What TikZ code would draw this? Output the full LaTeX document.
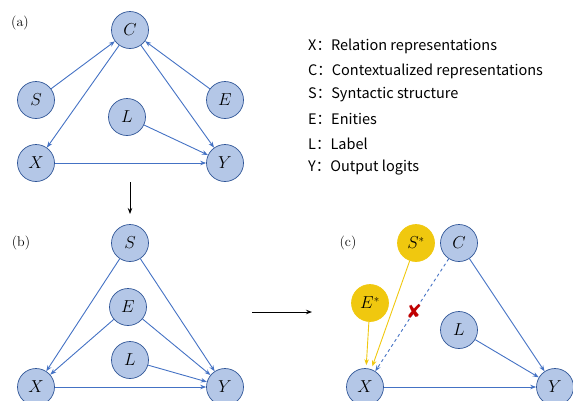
\documentclass[tikz,border=0pt]{standalone}
\usepackage{fontspec}
\usepackage{tikz}
\usetikzlibrary{arrows.meta,positioning}
\newfontfamily\legendfont{Noto Sans CJK SC}
\newfontfamily\markfont{DejaVu Sans}
\definecolor{nodeFill}{RGB}{180, 199, 231}
\definecolor{nodeEdge}{RGB}{47, 85, 151}
\definecolor{linkBlue}{RGB}{68, 114, 196}
\definecolor{interGold}{RGB}{240, 200, 15}
\definecolor{cutRed}{RGB}{192, 0, 0}

\tikzset{
  var/.style={circle, draw=nodeEdge, fill=nodeFill, line width=0.7pt,
    minimum size=37pt, inner sep=0pt, font=\fontsize{16}{16}\selectfont},
  intervar/.style={var, draw=interGold, fill=interGold},
  link/.style={draw=linkBlue, line width=0.9pt, -{Stealth[length=6pt,width=4.5pt]}},
  interlink/.style={link, draw=interGold, shorten >=3pt},
  cutlink/.style={link, dashed},
  stage/.style={draw=black, line width=0.9pt, -{Stealth[length=6pt,width=4.5pt]}},
  panel/.style={font=\fontsize{14}{14}\selectfont},
  legend/.style={anchor=west, inner sep=0pt, font=\legendfont\fontsize{14.5}{14.5}\selectfont}
}

\begin{document}
\begin{tikzpicture}[x=1pt, y=-1pt]
  \useasboundingbox (0,0) rectangle (573,400);

  % (a) original graph
  \node[panel] (la) at (20,23) {(a)};
  \node[var] (aC) at (130,30) {$C$};
  \node[var] (aS) at (36,100) {$S$};
  \node[var] (aE) at (225,100) {$E$};
  \node[var] (aL) at (127,117) {$L$};
  \node[var] (aX) at (36,163) {$X$};
  \node[var] (aY) at (225,163) {$Y$};
  \draw[link] (aS) -- (aC);
  \draw[link] (aE) -- (aC);
  \draw[link] (aC) -- (aX);
  \draw[link] (aC) -- (aY);
  \draw[link] (aL) -- (aY);
  \draw[link] (aX) -- (aY);

  % legend
  \node[legend] (kX) at (308,46) {X：Relation representations};
  \node[legend] (kC) at (308,71) {C：Contextualized representations};
  \node[legend] (kS) at (308,95) {S：Syntactic structure};
  \node[legend] (kE) at (308,119) {E：Enities};
  \node[legend] (kL) at (308,144) {L：Label};
  \node[legend] (kY) at (308,168) {Y：Output logits};

  \coordinate (downA) at (130,182);
  \coordinate (downB) at (130,214);
  \draw[stage] (downA) -- (downB);

  % (b) syntax-aware graph
  \node[panel] (lb) at (21,243) {(b)};
  \node[var] (bS) at (130,243) {$S$};
  \node[var] (bE) at (128,307) {$E$};
  \node[var] (bL) at (130,360) {$L$};
  \node[var] (bX) at (36,387) {$X$};
  \node[var] (bY) at (225,387) {$Y$};
  \draw[link] (bS) -- (bX);
  \draw[link] (bS) -- (bY);
  \draw[link] (bE) -- (bX);
  \draw[link] (bE) -- (bY);
  \draw[link] (bL) -- (bY);
  \draw[link] (bX) -- (bY);

  \coordinate (rightA) at (252,312);
  \coordinate (rightB) at (312,312);
  \draw[stage] (rightA) -- (rightB);

  % (c) intervened graph
  \node[panel] (lc) at (348,243) {(c)};
  \node[intervar] (cS) at (416,243) {$S^{*}$};
  \node[var] (cC) at (459,243) {$C$};
  \node[intervar] (cE) at (370,303) {$E^{*}$};
  \node[var] (cL) at (459,330) {$L$};
  \node[var] (cX) at (365,387) {$X$};
  \node[var] (cY) at (555,387) {$Y$};
  \draw[interlink] (cE) -- (cX);
  \draw[interlink] (cS) -- (cX);
  \draw[cutlink] (cC) -- node[pos=0.47, text=cutRed, inner sep=0pt, font=\markfont\fontsize{19}{19}\selectfont] (cut) {✘} (cX);
  \draw[link] (cC) -- (cY);
  \draw[link] (cL) -- (cY);
  \draw[link] (cX) -- (cY);
\end{tikzpicture}
\end{document}
